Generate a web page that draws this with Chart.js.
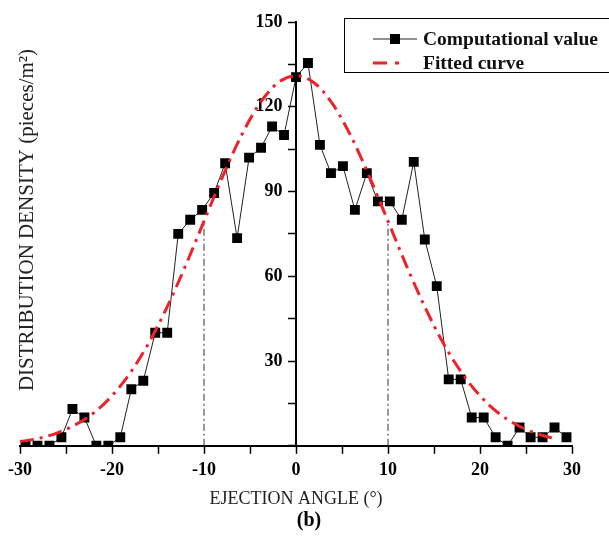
<!DOCTYPE html>
<html>
<head>
<meta charset="utf-8">
<script src="https://cdn.jsdelivr.net/npm/chart.js@4.4.0/dist/chart.umd.min.js"></script>
<style>
  html, body { margin: 0; padding: 0; background: #fff; }
  #wrap { width: 609px; height: 540px; }
</style>
</head>
<body>
<div id="wrap"><canvas id="canvas"></canvas></div>
<script>
// ejection angle of each computed bin (deg)
var angles = [-29.4, -28.1, -26.8, -25.5, -24.3, -23.0, -21.7, -20.4, -19.1, -17.9, -16.6, -15.3,
    -14.0, -12.8, -11.5, -10.2, -8.9, -7.7, -6.4, -5.1, -3.8, -2.6, -1.3, 0,
    1.3, 2.6, 3.8, 5.1, 6.4, 7.7, 8.9, 10.2, 11.5, 12.8, 14.0, 15.3,
    16.6, 17.9, 19.1, 20.4, 21.7, 23.0, 24.3, 25.5, 26.8, 28.1, 29.4];
var computed = [0, 0, 0, 3, 13, 10, 0, 0, 3, 20, 23, 40,
    40, 75, 80, 83.5, 89.5, 100, 73.5, 102, 105.5, 113, 110, 130.5,
    135.5, 106.5, 96.5, 99, 83.5, 96.5, 86.5, 86.5, 80, 100.5, 73, 56.5,
    23.5, 23.5, 10, 10, 3, 0, 6.5, 3, 3, 6.5, 3];

// fitted curve
var fitAngles = [-30, -28, -26, -24, -22, -20, -18, -16, -14, -12, -10, -8, -6, -4, -2, 0,
    2, 4, 6, 8, 10, 12, 14, 16, 18, 20, 22, 24, 26, 28];
var fitted = [1.5, 2.6, 4.5, 7.4, 11.6, 17.7, 25.9, 36.4, 49.2, 63.8, 79.5, 95.1, 109.4, 120.9, 128.4, 131,
    128.4, 120.9, 109.4, 95.1, 79.5, 63.8, 49.2, 36.4, 25.9, 17.7, 11.6, 7.4, 4.5, 2.6];

// dash-dot guides at +/- sigma
var guideX = [-10, 10];
var guideTop = 79.5;

var xTicks = [-30, -20, -10, 0, 10, 20, 30];
var yTicks = [30, 60, 90, 120, 150];

var serif = '"Liberation Serif", "Times New Roman", serif';
var red = '#ee2228';

function pts(xs, ys) {
    return xs.map(function(x, i) { return { x: x, y: ys[i] }; });
}

var datasets = [{
    label: 'Computational value',
    data: pts(angles, computed),
    borderColor: '#222',
    borderWidth: 1,
    pointStyle: 'rect',
    pointRadius: 7,
    pointHoverRadius: 7,
    pointBackgroundColor: '#000',
    pointBorderWidth: 0,
    order: 1
}, {
    label: 'Fitted curve',
    data: pts(fitAngles, fitted),
    borderColor: red,
    borderWidth: 3,
    borderDash: [14, 6, 3, 6],
    pointRadius: 0,
    cubicInterpolationMode: 'monotone',
    order: 0
}];

guideX.forEach(function(gx) {
    datasets.push({
        label: 'guide',
        data: [{ x: gx, y: 0 }, { x: gx, y: guideTop }],
        borderColor: '#333',
        borderWidth: 1,
        borderDash: [7, 3, 2, 3],
        pointRadius: 0,
        order: 2
    });
});

var extras = {
    id: 'extras',
    afterDraw: function(chart) {
        var ctx = chart.ctx;
        ctx.save();
        // y title
        ctx.fillStyle = '#222';
        ctx.font = '21px ' + serif;
        ctx.textAlign = 'center';
        ctx.textBaseline = 'middle';
        ctx.translate(27, 220);
        ctx.rotate(-Math.PI / 2);
        ctx.fillText('DISTRIBUTION DENSITY (pieces/m\u00b2)', 0, 0);
        ctx.restore();

        ctx.save();
        ctx.fillStyle = '#000';
        ctx.font = 'bold 20px ' + serif;
        ctx.textAlign = 'center';
        ctx.textBaseline = 'middle';
        ctx.fillText('(b)', 309, 521);

        // legend box
        ctx.strokeStyle = '#000';
        ctx.lineWidth = 1;
        ctx.strokeRect(344.5, 18.5, 270, 54);
        ctx.strokeStyle = '#222';
        ctx.beginPath();
        ctx.moveTo(373, 39);
        ctx.lineTo(417, 39);
        ctx.stroke();
        ctx.fillStyle = '#000';
        ctx.fillRect(390, 34, 10, 10);
        ctx.strokeStyle = red;
        ctx.lineWidth = 3;
        ctx.beginPath();
        ctx.moveTo(373, 63);
        ctx.lineTo(387, 63);
        ctx.moveTo(395, 63);
        ctx.lineTo(399, 63);
        ctx.stroke();
        ctx.fillStyle = '#111';
        ctx.font = 'bold 19.5px ' + serif;
        ctx.textAlign = 'left';
        ctx.fillText('Computational value', 423, 40);
        ctx.fillText('Fitted curve', 423, 64);
        ctx.restore();
    }
};

window.onload = function() {
    var ctx = document.getElementById('canvas').getContext('2d');
    window.myChart = new Chart(ctx, {
        type: 'line',
        data: { datasets: datasets },
        options: {
            responsive: true,
            maintainAspectRatio: false,
            animation: false,
            layout: { padding: { top: 22, right: 37, left: 20, bottom: 30 } },
            plugins: {
                legend: { display: false },
                tooltip: { enabled: false }
            },
            scales: {
                x: {
                    type: 'linear',
                    min: -30,
                    max: 30,
                    grid: { drawOnChartArea: false, drawTicks: true, tickLength: 8, tickColor: '#000', tickWidth: 1.5 },
                    border: { color: '#000', width: 2 },
                    ticks: {
                        stepSize: 5,
                        autoSkip: false,
                        maxRotation: 0,
                        padding: 6,
                        color: '#000',
                        font: { family: serif, size: 18, weight: 'bold' },
                        callback: function(v) { return xTicks.indexOf(v) >= 0 ? v : ''; }
                    },
                    title: {
                        display: true,
                        text: 'EJECTION ANGLE (\u00b0)',
                        color: '#222',
                        font: { family: serif, size: 18 },
                        padding: { top: 1, bottom: 0 }
                    }
                },
                y: {
                    position: { x: 0 },
                    min: 0,
                    max: 150,
                    grid: { drawOnChartArea: false, drawTicks: true, tickLength: 7, tickColor: '#000', tickWidth: 1.5 },
                    border: { color: '#000', width: 2 },
                    ticks: {
                        stepSize: 15,
                        autoSkip: false,
                        color: '#000',
                        font: { family: serif, size: 18, weight: 'bold' },
                        // labels sit left of the centred axis
                        callback: function(v) { return yTicks.indexOf(v) >= 0 ? v + '\u2002\u2005' : ''; }
                    }
                }
            }
        },
        plugins: [extras]
    });
};
</script>
</body>
</html>
